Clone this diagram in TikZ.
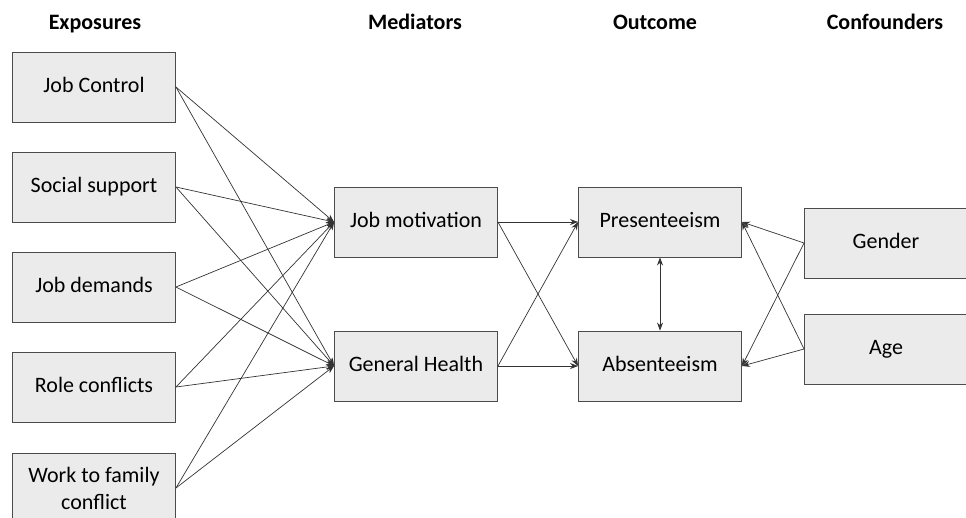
\documentclass[tikz,border=0pt]{standalone}
\usepackage{fontspec}
\setmainfont{Carlito}
\usetikzlibrary{arrows.meta}

\begin{document}
\begin{tikzpicture}[x=1pt,y=-1pt,>={Stealth[length=8pt,width=6pt]}]
\tikzstyle{every node}=[font=\fontsize{22}{27}\selectfont, text height=15pt, text depth=5pt]
\tikzstyle{box}=[draw=black!70, fill=black!8, line width=0.9pt, minimum width=163pt, minimum height=70pt, inner sep=2pt, align=center]
\tikzstyle{head}=[font=\fontsize{22}{27}\selectfont\bfseries]
\tikzstyle{link}=[->, draw=black!80, line width=0.7pt]

\clip (0,0) rectangle (966,517);

% headings
\node[head] (hE) at ( 95, 24) {Exposures};
\node[head] (hM) at (415, 24) {Mediators};
\node[head] (hO) at (655, 24) {Outcome};
\node[head] (hC) at (885, 24) {Confounders};

% exposures
\node[box] (JC) at ( 94,  87) {Job Control};
\node[box] (SS) at ( 94, 187) {Social support};
\node[box] (JD) at ( 94, 287) {Job demands};
\node[box] (RC) at ( 94, 387) {Role conflicts};
\node[box, text height=, text depth=] (WF) at ( 94, 488) {Work to family\\conflict};

% mediators
\node[box] (JM) at (416, 222) {Job motivation};
\node[box] (GH) at (416, 366) {General Health};

% outcome
\node[box] (PR) at (660, 222) {Presenteeism};
\node[box] (AB) at (660, 366) {Absenteeism};

% confounders
\node[box] (GE) at (886, 243) {Gender};
\node[box] (AG) at (886, 349) {Age};

\foreach \e in {JC,SS,JD,RC,WF}
{
  \draw[link] (\e.east) -- (JM.west);
  \draw[link] (\e.east) -- (GH.west);
}

\draw[link] (JM.east) -- (PR.west);
\draw[link] (JM.east) -- (AB.west);
\draw[link] (GH.east) -- (PR.west);
\draw[link] (GH.east) -- (AB.west);

\draw[link, <->] (PR.south) -- (AB.north);

\draw[link] (GE.west) -- (PR.east);
\draw[link] (GE.west) -- (AB.east);
\draw[link] (AG.west) -- (PR.east);
\draw[link] (AG.west) -- (AB.east);
\end{tikzpicture}
\end{document}
